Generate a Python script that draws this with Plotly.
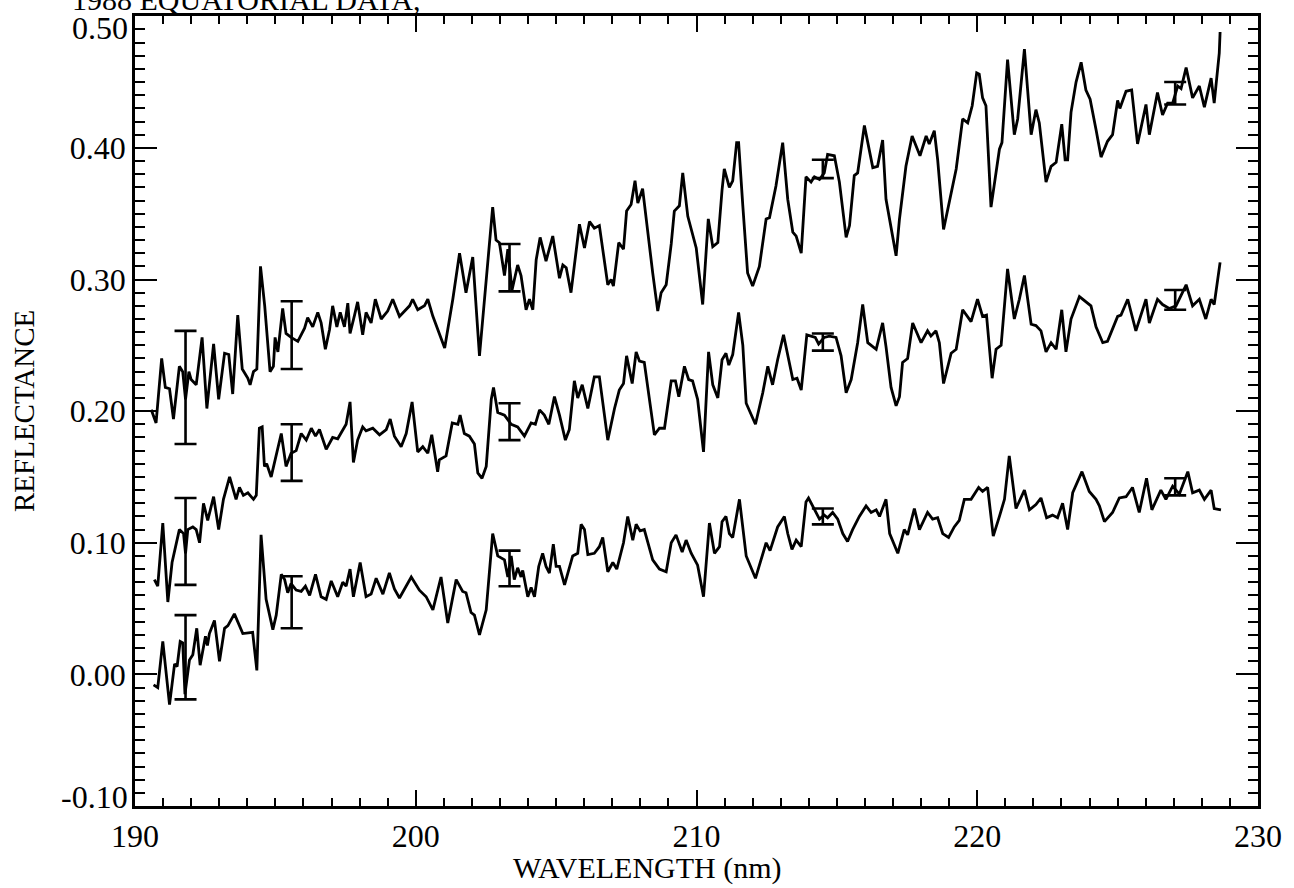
import plotly.graph_objects as go

# ---- spectra: wavelength (nm) and reflectance for the three scans ----
wl_upper = [190.58, 190.75, 190.95, 191.08, 191.23, 191.37, 191.58, 191.70, 191.80, 191.92,
            192.00, 192.18, 192.39, 192.56, 192.80, 192.98, 193.19, 193.34, 193.48, 193.66,
            193.82, 194.02, 194.10, 194.22, 194.34, 194.47, 194.62, 194.81, 194.93, 194.99,
            195.09, 195.26, 195.38, 195.56, 195.80, 196.04, 196.15, 196.33, 196.51, 196.63,
            196.78, 196.93, 197.04, 197.19, 197.31, 197.46, 197.58, 197.66, 197.82, 197.93,
            198.11, 198.23, 198.41, 198.56, 198.77, 199.00, 199.18, 199.42, 199.78, 199.89,
            200.07, 200.31, 200.43, 200.61, 201.03, 201.32, 201.56, 201.79, 202.03, 202.27,
            202.74, 202.86, 202.98, 203.16, 203.28, 203.43, 203.63, 203.75, 203.93, 204.05,
            204.17, 204.29, 204.43, 204.64, 204.88, 205.12, 205.24, 205.36, 205.53, 205.83,
            206.01, 206.19, 206.36, 206.54, 206.84, 206.96, 207.04, 207.23, 207.40, 207.51,
            207.67, 207.81, 207.91, 208.08, 208.44, 208.62, 208.74, 208.92, 209.10, 209.21,
            209.39, 209.51, 209.69, 209.99, 210.22, 210.42, 210.58, 210.76, 210.91, 210.99,
            211.17, 211.29, 211.43, 211.50, 211.65, 211.82, 212.00, 212.24, 212.48, 212.60,
            212.83, 213.07, 213.25, 213.43, 213.55, 213.73, 213.90, 214.08, 214.20, 214.38,
            214.55, 214.67, 214.91, 215.09, 215.33, 215.45, 215.62, 215.74, 215.98, 216.28,
            216.45, 216.63, 216.75, 217.11, 217.23, 217.46, 217.68, 217.96, 218.18, 218.29,
            218.47, 218.59, 218.80, 219.07, 219.25, 219.48, 219.66, 219.82, 219.98, 220.07,
            220.19, 220.31, 220.49, 220.79, 220.88, 221.08, 221.32, 221.44, 221.68, 221.92,
            222.09, 222.21, 222.45, 222.63, 222.81, 223.01, 223.13, 223.22, 223.34, 223.52,
            223.70, 223.87, 224.02, 224.23, 224.41, 224.64, 224.82, 225.00, 225.08, 225.30,
            225.50, 225.71, 226.01, 226.13, 226.42, 226.60, 226.78, 226.96, 227.14, 227.26,
            227.44, 227.67, 227.91, 228.09, 228.33, 228.44, 228.62, 228.65]
refl_upper = [0.201, 0.191, 0.240, 0.218, 0.217, 0.194, 0.234, 0.230, 0.209, 0.230,
              0.224, 0.220, 0.256, 0.202, 0.251, 0.209, 0.244, 0.243, 0.213, 0.273,
              0.232, 0.225, 0.220, 0.230, 0.232, 0.310, 0.280, 0.230, 0.234, 0.256,
              0.245, 0.278, 0.259, 0.256, 0.253, 0.263, 0.271, 0.264, 0.275, 0.267,
              0.247, 0.262, 0.280, 0.264, 0.275, 0.264, 0.282, 0.259, 0.273, 0.283,
              0.258, 0.275, 0.267, 0.285, 0.270, 0.276, 0.285, 0.272, 0.280, 0.285,
              0.277, 0.280, 0.285, 0.272, 0.248, 0.285, 0.320, 0.290, 0.317, 0.242,
              0.355, 0.330, 0.328, 0.303, 0.323, 0.292, 0.311, 0.303, 0.277, 0.285,
              0.277, 0.315, 0.332, 0.314, 0.333, 0.301, 0.311, 0.309, 0.290, 0.342,
              0.324, 0.344, 0.339, 0.341, 0.296, 0.300, 0.295, 0.328, 0.323, 0.352,
              0.357, 0.375, 0.358, 0.369, 0.305, 0.276, 0.290, 0.296, 0.327, 0.352,
              0.356, 0.381, 0.348, 0.324, 0.281, 0.346, 0.325, 0.328, 0.368, 0.384,
              0.370, 0.375, 0.404, 0.404, 0.356, 0.305, 0.295, 0.310, 0.346, 0.347,
              0.371, 0.404, 0.361, 0.336, 0.333, 0.320, 0.378, 0.374, 0.378, 0.376,
              0.381, 0.395, 0.394, 0.374, 0.332, 0.341, 0.379, 0.381, 0.417, 0.385,
              0.386, 0.406, 0.361, 0.318, 0.346, 0.386, 0.409, 0.394, 0.409, 0.403,
              0.413, 0.391, 0.338, 0.366, 0.384, 0.422, 0.419, 0.432, 0.457, 0.456,
              0.438, 0.432, 0.355, 0.399, 0.404, 0.467, 0.410, 0.422, 0.475, 0.410,
              0.429, 0.419, 0.374, 0.386, 0.389, 0.418, 0.391, 0.391, 0.427, 0.450,
              0.465, 0.444, 0.437, 0.414, 0.393, 0.405, 0.410, 0.436, 0.430, 0.443,
              0.444, 0.403, 0.433, 0.410, 0.442, 0.425, 0.434, 0.434, 0.447, 0.445,
              0.461, 0.438, 0.447, 0.431, 0.453, 0.434, 0.472, 0.488]

wl_middle = [190.69, 190.81, 190.99, 191.17, 191.32, 191.58, 191.73, 191.80, 191.88, 192.06,
             192.18, 192.30, 192.44, 192.59, 192.80, 192.98, 193.15, 193.37, 193.60, 193.72,
             193.86, 194.02, 194.22, 194.32, 194.43, 194.53, 194.61, 194.69, 194.85, 195.03,
             195.21, 195.38, 195.56, 195.74, 195.92, 196.10, 196.28, 196.43, 196.57, 196.81,
             197.04, 197.22, 197.40, 197.52, 197.66, 197.78, 197.93, 198.11, 198.23, 198.47,
             198.71, 198.95, 199.09, 199.24, 199.48, 199.66, 199.87, 200.07, 200.25, 200.43,
             200.57, 200.78, 200.84, 201.08, 201.30, 201.50, 201.58, 201.73, 201.91, 202.09,
             202.21, 202.36, 202.51, 202.69, 202.77, 202.92, 203.16, 203.40, 203.63, 203.87,
             204.11, 204.26, 204.41, 204.58, 204.74, 204.94, 205.12, 205.33, 205.47, 205.65,
             205.77, 205.93, 206.13, 206.36, 206.54, 206.84, 207.08, 207.25, 207.40, 207.51,
             207.71, 207.85, 207.97, 208.14, 208.50, 208.68, 208.86, 209.10, 209.25, 209.37,
             209.57, 209.72, 209.86, 210.04, 210.25, 210.43, 210.58, 210.76, 210.91, 211.05,
             211.15, 211.29, 211.50, 211.65, 211.77, 212.10, 212.36, 212.54, 212.71, 212.89,
             213.10, 213.29, 213.43, 213.58, 213.73, 213.93, 214.08, 214.23, 214.35, 214.55,
             214.73, 214.97, 215.15, 215.33, 215.51, 215.74, 215.92, 216.10, 216.40, 216.63,
             216.75, 216.93, 217.11, 217.23, 217.34, 217.52, 217.70, 218.00, 218.23, 218.35,
             218.53, 218.65, 218.80, 219.07, 219.25, 219.48, 219.78, 220.01, 220.19, 220.33,
             220.53, 220.67, 220.85, 221.08, 221.32, 221.50, 221.68, 221.92, 222.09, 222.27,
             222.45, 222.63, 222.81, 223.01, 223.16, 223.34, 223.64, 224.05, 224.23, 224.47,
             224.64, 225.00, 225.12, 225.36, 225.65, 226.01, 226.13, 226.42, 226.60, 226.84,
             227.08, 227.44, 227.67, 227.91, 228.14, 228.33, 228.44, 228.65]
refl_middle = [0.072, 0.067, 0.115, 0.055, 0.085, 0.110, 0.107, 0.092, 0.110, 0.112,
               0.110, 0.100, 0.130, 0.117, 0.135, 0.110, 0.133, 0.150, 0.133, 0.142,
               0.136, 0.138, 0.133, 0.136, 0.187, 0.188, 0.158, 0.160, 0.150, 0.166,
               0.183, 0.158, 0.168, 0.170, 0.183, 0.178, 0.187, 0.181, 0.186, 0.171,
               0.180, 0.179, 0.185, 0.190, 0.207, 0.161, 0.178, 0.188, 0.185, 0.187,
               0.182, 0.186, 0.194, 0.181, 0.173, 0.183, 0.207, 0.169, 0.173, 0.168,
               0.182, 0.154, 0.163, 0.166, 0.191, 0.190, 0.197, 0.183, 0.181, 0.175,
               0.153, 0.149, 0.158, 0.209, 0.218, 0.199, 0.197, 0.190, 0.188, 0.181,
               0.191, 0.190, 0.201, 0.197, 0.190, 0.211, 0.197, 0.178, 0.186, 0.223,
               0.210, 0.220, 0.202, 0.226, 0.226, 0.178, 0.202, 0.216, 0.221, 0.242,
               0.221, 0.245, 0.238, 0.237, 0.182, 0.187, 0.187, 0.223, 0.223, 0.211,
               0.234, 0.224, 0.223, 0.209, 0.169, 0.245, 0.220, 0.210, 0.239, 0.244,
               0.235, 0.243, 0.275, 0.250, 0.206, 0.190, 0.214, 0.234, 0.220, 0.239,
               0.258, 0.238, 0.224, 0.225, 0.216, 0.258, 0.257, 0.256, 0.251, 0.256,
               0.257, 0.256, 0.242, 0.214, 0.224, 0.252, 0.281, 0.252, 0.247, 0.267,
               0.249, 0.218, 0.204, 0.211, 0.237, 0.240, 0.267, 0.252, 0.261, 0.257,
               0.261, 0.252, 0.221, 0.244, 0.247, 0.277, 0.268, 0.285, 0.272, 0.273,
               0.225, 0.247, 0.250, 0.308, 0.270, 0.285, 0.303, 0.266, 0.265, 0.261,
               0.245, 0.252, 0.247, 0.277, 0.245, 0.270, 0.287, 0.280, 0.264, 0.252,
               0.253, 0.272, 0.273, 0.285, 0.261, 0.285, 0.267, 0.285, 0.281, 0.278,
               0.280, 0.296, 0.280, 0.285, 0.270, 0.285, 0.281, 0.313]

wl_lower = [190.66, 190.81, 190.99, 191.23, 191.41, 191.50, 191.61, 191.70, 191.78, 191.94,
            192.06, 192.20, 192.32, 192.51, 192.58, 192.65, 192.83, 193.01, 193.19, 193.31,
            193.54, 193.84, 194.19, 194.34, 194.49, 194.67, 194.91, 195.03, 195.21, 195.33,
            195.44, 195.56, 195.74, 195.92, 196.07, 196.22, 196.43, 196.63, 196.81, 196.99,
            197.22, 197.40, 197.52, 197.66, 197.78, 198.02, 198.23, 198.41, 198.59, 198.83,
            199.06, 199.24, 199.42, 199.84, 200.13, 200.37, 200.61, 200.90, 201.14, 201.44,
            201.67, 201.79, 201.97, 202.09, 202.27, 202.51, 202.74, 202.92, 203.16, 203.28,
            203.40, 203.51, 203.63, 203.75, 203.81, 203.99, 204.11, 204.23, 204.38, 204.52,
            204.64, 204.76, 204.90, 205.00, 205.12, 205.30, 205.59, 205.77, 205.89, 206.01,
            206.13, 206.36, 206.54, 206.66, 206.84, 207.02, 207.16, 207.40, 207.55, 207.73,
            207.85, 207.99, 208.14, 208.44, 208.68, 208.92, 209.10, 209.27, 209.49, 209.63,
            209.81, 210.04, 210.25, 210.46, 210.64, 210.82, 210.91, 211.05, 211.17, 211.29,
            211.53, 211.77, 212.10, 212.48, 212.62, 212.89, 213.13, 213.25, 213.40, 213.55,
            213.73, 213.90, 213.99, 214.20, 214.38, 214.55, 214.67, 214.85, 215.03, 215.21,
            215.38, 215.56, 215.80, 216.04, 216.22, 216.40, 216.52, 216.75, 216.88, 217.17,
            217.40, 217.52, 217.76, 217.94, 218.23, 218.41, 218.59, 218.77, 218.98, 219.18,
            219.36, 219.54, 219.78, 220.05, 220.19, 220.37, 220.57, 220.79, 220.97, 221.14,
            221.38, 221.68, 221.86, 222.09, 222.27, 222.47, 222.68, 222.86, 223.04, 223.22,
            223.40, 223.73, 223.99, 224.23, 224.35, 224.53, 224.82, 225.06, 225.30, 225.53,
            225.77, 226.03, 226.22, 226.54, 226.72, 226.96, 227.20, 227.50, 227.67, 227.91,
            228.09, 228.33, 228.44, 228.68]
refl_lower = [-0.008, -0.010, 0.025, -0.023, 0.008, 0.006, 0.025, 0.024, -0.015, 0.011,
              0.015, 0.035, 0.007, 0.029, 0.022, 0.031, 0.041, 0.010, 0.035, 0.037,
              0.046, 0.031, 0.032, 0.003, 0.106, 0.057, 0.034, 0.045, 0.076, 0.072,
              0.062, 0.069, 0.064, 0.063, 0.067, 0.060, 0.076, 0.059, 0.057, 0.071,
              0.059, 0.070, 0.067, 0.080, 0.059, 0.085, 0.059, 0.061, 0.073, 0.061,
              0.077, 0.065, 0.058, 0.074, 0.064, 0.059, 0.049, 0.074, 0.039, 0.072,
              0.063, 0.062, 0.047, 0.045, 0.030, 0.049, 0.107, 0.090, 0.087, 0.074,
              0.090, 0.072, 0.081, 0.074, 0.079, 0.059, 0.066, 0.059, 0.082, 0.092,
              0.082, 0.077, 0.099, 0.082, 0.082, 0.068, 0.090, 0.092, 0.114, 0.110,
              0.091, 0.092, 0.097, 0.104, 0.078, 0.085, 0.080, 0.100, 0.120, 0.102,
              0.114, 0.109, 0.110, 0.087, 0.080, 0.078, 0.100, 0.106, 0.093, 0.102,
              0.092, 0.083, 0.059, 0.115, 0.092, 0.097, 0.116, 0.120, 0.107, 0.104,
              0.133, 0.090, 0.073, 0.100, 0.094, 0.112, 0.120, 0.107, 0.095, 0.102,
              0.097, 0.131, 0.134, 0.125, 0.118, 0.121, 0.119, 0.123, 0.118, 0.107,
              0.101, 0.110, 0.120, 0.128, 0.123, 0.125, 0.120, 0.133, 0.107, 0.092,
              0.110, 0.106, 0.126, 0.110, 0.123, 0.118, 0.119, 0.107, 0.104, 0.112,
              0.117, 0.133, 0.133, 0.142, 0.139, 0.142, 0.105, 0.120, 0.133, 0.166,
              0.126, 0.140, 0.125, 0.129, 0.134, 0.119, 0.121, 0.119, 0.130, 0.110,
              0.138, 0.154, 0.139, 0.133, 0.128, 0.116, 0.123, 0.134, 0.135, 0.142,
              0.123, 0.149, 0.125, 0.140, 0.133, 0.143, 0.137, 0.154, 0.138, 0.140,
              0.133, 0.140, 0.126, 0.125]

# ---- uncertainty bars: wavelength, upper and lower limits for each scan ----
bar_wl = [191.80, 195.58, 203.34, 214.50, 227.05]
upper_hi = [0.261, 0.2835, 0.327, 0.391, 0.450]
upper_lo = [0.175, 0.232, 0.291, 0.377, 0.433]
middle_hi = [0.134, 0.190, 0.206, 0.259, 0.292]
middle_lo = [0.068, 0.147, 0.178, 0.246, 0.277]
lower_hi = [0.045, 0.0745, 0.094, 0.126, 0.149]
lower_lo = [-0.019, 0.035, 0.067, 0.114, 0.136]

x_ticks = [190, 200, 210, 220, 230]
y_ticks = [-0.10, 0.00, 0.10, 0.20, 0.30, 0.40, 0.50]

INK = "black"
SERIF = "Liberation Serif, Times New Roman, serif"
TICK_SIZE = 32

# plot area in pixels, used to place the free-standing labels
W, H = 1294, 888
ML, MR, MT, MB = 135, 36, 16, 82
PW, PH = W - ML - MR, H - MT - MB

fig = go.Figure()

for wl, refl in [(wl_upper, refl_upper), (wl_middle, refl_middle), (wl_lower, refl_lower)]:
    fig.add_trace(go.Scatter(x=wl, y=refl, mode="lines",
                             line=dict(color=INK, width=2.8), hoverinfo="skip"))

for hi, lo in [(upper_hi, upper_lo), (middle_hi, middle_lo), (lower_hi, lower_lo)]:
    mid = [(h + l) / 2 for h, l in zip(hi, lo)]
    half = [(h - l) / 2 for h, l in zip(hi, lo)]
    fig.add_trace(go.Scatter(x=bar_wl, y=mid, mode="markers",
                             marker=dict(size=1, color=INK),
                             error_y=dict(type="data", array=half, symmetric=True,
                                          color=INK, thickness=2.6, width=11),
                             hoverinfo="skip"))

axis_common = dict(
    showline=True, linewidth=2.5, linecolor=INK, mirror="allticks",
    ticks="inside", tickcolor=INK, tickwidth=2,
    showgrid=False, zeroline=False,
    tickfont=dict(family=SERIF, size=TICK_SIZE, color=INK),
)

fig.update_xaxes(range=[190, 230], tickvals=x_ticks, ticktext=[str(v) for v in x_ticks],
                 ticklen=16,
                 minor=dict(dtick=1, tick0=190, ticks="inside", ticklen=8,
                            tickwidth=2, tickcolor=INK),
                 **axis_common)

# the end labels of the y axis sit nudged inside the frame, so they are drawn separately
y_text = [f"{v:.2f}" for v in y_ticks]
y_axis_text = ["" if i in (0, len(y_ticks) - 1) else t for i, t in enumerate(y_text)]
fig.update_yaxes(range=[-0.10, 0.5002], tickvals=y_ticks, ticktext=y_axis_text,
                 ticklen=22,
                 minor=dict(dtick=0.01, tick0=0, ticks="inside", ticklen=10,
                            tickwidth=2, tickcolor=INK),
                 **axis_common)

for idx, shift in [(0, 9), (len(y_ticks) - 1, -12)]:
    fig.add_annotation(text=y_text[idx], xref="paper", yref="y",
                       x=0, y=y_ticks[idx], xanchor="right", yanchor="middle",
                       xshift=-5, yshift=shift, showarrow=False,
                       font=dict(family=SERIF, size=TICK_SIZE, color=INK))

fig.add_annotation(text="WAVELENGTH (nm)", xref="paper", yref="paper",
                   x=(647 - ML) / PW, y=(H - MB - 868) / PH,
                   xanchor="center", yanchor="middle", showarrow=False,
                   font=dict(family=SERIF, size=30, color=INK))
fig.add_annotation(text="REFLECTANCE", xref="paper", yref="paper",
                   x=(24 - ML) / PW, y=0.5, textangle=-90,
                   xanchor="center", yanchor="middle", showarrow=False,
                   font=dict(family=SERIF, size=29, color=INK))

fig.add_annotation(text="1988 EQUATORIAL DATA,", xref="paper", yref="paper",
                   x=(70 - ML) / PW, y=1.0 - 2 / PH, xanchor="left", yanchor="bottom",
                   showarrow=False, font=dict(family=SERIF, size=30, color=INK))

fig.update_layout(width=W, height=H,
                  margin=dict(l=ML, r=MR, t=MT, b=MB),
                  paper_bgcolor="white", plot_bgcolor="white",
                  showlegend=False)

fig.write_html("out.html")
